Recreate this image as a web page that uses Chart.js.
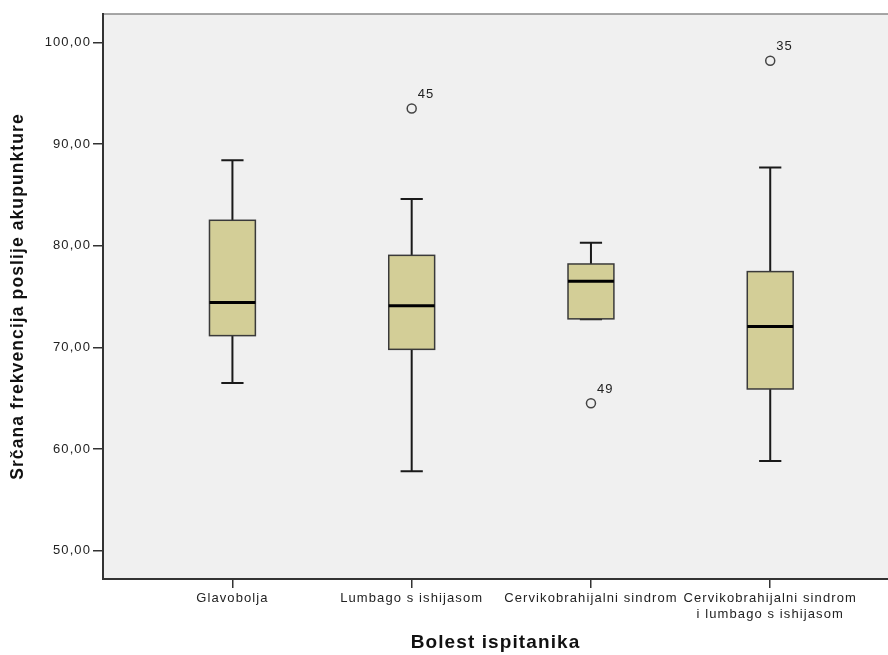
<!DOCTYPE html>
<html>
<head>
<meta charset="utf-8">
<script src="https://cdn.jsdelivr.net/npm/chart.js@4"></script>
<style>
  body { margin: 0; background: #fff; overflow: hidden; }
  #wrap { width: 888px; height: 655px; }
  canvas { display: block; }
</style>
</head>
<body>
<div id="wrap"><canvas id="boxChart" width="888" height="655"></canvas></div>
<script>
// kategorije i vrijednosti (očitano s grafa)
const categories = [
  'Glavobolja',
  'Lumbago s ishijasom',
  'Cervikobrahijalni sindrom',
  ['Cervikobrahijalni sindrom', 'i lumbago s ishijasom']
];
const whiskerLow = [66.5, 57.8, 72.75, 58.8];
const q1 = [71.15, 69.8, 72.8, 65.9];
const medians = [74.4, 74.1, 76.5, 72.05];
const q3 = [82.5, 79.05, 78.2, 77.45];
const whiskerHigh = [88.4, 84.6, 80.3, 87.7];

const outlierGroups = [2, 3, 4];
const outlierValues = [93.5, 64.5, 98.2];
const outlierIds = ['45', '49', '35'];

const yTicks = [50, 60, 70, 80, 90, 100];

const FONT = 'Liberation Sans, Arial, sans-serif';
const BOX_HALF = 0.128;
const CAP_HALF = 0.062;

// pozadina i okvir
const plotBg = {
  id: 'plotBg',
  beforeDraw(chart) {
    const { ctx, chartArea: a } = chart;
    ctx.letterSpacing = '1.1px';
    ctx.save();
    ctx.fillStyle = '#f0f0f0';
    ctx.fillRect(a.left, a.top, a.right - a.left, a.bottom - a.top);
    ctx.strokeStyle = '#8a8a8a';
    ctx.lineWidth = 1.5;
    ctx.beginPath();
    ctx.moveTo(a.left, a.top);
    ctx.lineTo(a.right, a.top);
    ctx.stroke();
    ctx.restore();
  }
};

// kutije, brkovi i medijani
const boxes = {
  id: 'boxes',
  beforeDatasetsDraw(chart) {
    const { ctx, scales: { x, y } } = chart;
    ctx.save();
    categories.forEach((c, i) => {
      const v = i + 1;
      const cx = x.getPixelForValue(v);
      const l = x.getPixelForValue(v - BOX_HALF);
      const r = x.getPixelForValue(v + BOX_HALF);
      const cl = x.getPixelForValue(v - CAP_HALF);
      const cr = x.getPixelForValue(v + CAP_HALF);
      const yLo = y.getPixelForValue(whiskerLow[i]);
      const yQ1 = y.getPixelForValue(q1[i]);
      const yMed = y.getPixelForValue(medians[i]);
      const yQ3 = y.getPixelForValue(q3[i]);
      const yHi = y.getPixelForValue(whiskerHigh[i]);

      ctx.strokeStyle = '#1a1a1a';
      ctx.lineWidth = 2;
      ctx.beginPath();
      ctx.moveTo(cx, yHi); ctx.lineTo(cx, yQ3);
      ctx.moveTo(cx, yQ1); ctx.lineTo(cx, yLo);
      ctx.moveTo(cl, yHi); ctx.lineTo(cr, yHi);
      ctx.moveTo(cl, yLo); ctx.lineTo(cr, yLo);
      ctx.stroke();

      ctx.fillStyle = '#d3ce97';
      ctx.fillRect(l, yQ3, r - l, yQ1 - yQ3);
      ctx.strokeStyle = '#3a3a3a';
      ctx.lineWidth = 1.5;
      ctx.strokeRect(l, yQ3, r - l, yQ1 - yQ3);

      ctx.strokeStyle = '#000';
      ctx.lineWidth = 3;
      ctx.beginPath();
      ctx.moveTo(l, yMed); ctx.lineTo(r, yMed);
      ctx.stroke();
    });
    ctx.restore();
  },
  afterDatasetsDraw(chart) {
    const { ctx, scales: { x, y } } = chart;
    ctx.save();
    ctx.font = '13px ' + FONT;
    ctx.fillStyle = '#222';
    ctx.textAlign = 'left';
    ctx.textBaseline = 'middle';
    outlierValues.forEach((val, i) => {
      const px = x.getPixelForValue(outlierGroups[i]);
      const py = y.getPixelForValue(val);
      ctx.fillText(outlierIds[i], px + 6, py - 14);
    });
    ctx.restore();
  }
};

new Chart(document.getElementById('boxChart'), {
  type: 'scatter',
  data: {
    datasets: [{
      data: outlierValues.map((v, i) => ({ x: outlierGroups[i], y: v })),
      pointStyle: 'circle',
      pointRadius: 4.5,
      pointBorderWidth: 1.5,
      borderColor: '#444',
      backgroundColor: 'rgba(0,0,0,0)'
    }]
  },
  options: {
    responsive: false,
    animation: false,
    devicePixelRatio: 1,
    layout: { autoPadding: false, padding: { top: 14, right: 0, left: 0, bottom: 0 } },
    plugins: {
      legend: { display: false },
      tooltip: { enabled: false }
    },
    scales: {
      x: {
        type: 'linear',
        min: 0.278,
        max: 4.657,
        afterBuildTicks: s => { s.ticks = categories.map((c, i) => ({ value: i + 1 })); },
        afterFit: s => { s.height = 76; },
        ticks: {
          autoSkip: false,
          maxRotation: 0,
          padding: 3,
          color: '#222',
          font: { family: FONT, size: 13 },
          callback: v => categories[v - 1]
        },
        grid: {
          drawOnChartArea: false,
          drawTicks: true,
          tickLength: 9,
          tickColor: '#333',
          lineWidth: 1.5
        },
        border: { display: true, color: '#333', width: 2 },
        title: {
          display: true,
          text: 'Bolest ispitanika',
          color: '#111',
          font: { family: FONT, size: 19, weight: 'bold' },
          padding: { top: 0, bottom: 1 }
        }
      },
      y: {
        min: 47.2,
        max: 102.8,
        afterBuildTicks: s => { s.ticks = yTicks.map(v => ({ value: v })); },
        afterFit: s => { s.width = 103; },
        ticks: {
          padding: 2,
          color: '#222',
          font: { family: FONT, size: 13 },
          callback: v => v.toFixed(2).replace('.', ',')
        },
        grid: {
          drawOnChartArea: false,
          drawTicks: true,
          tickLength: 10,
          tickColor: '#333',
          lineWidth: 1.5
        },
        border: { display: true, color: '#333', width: 2 },
        title: {
          display: true,
          text: 'Srčana frekvencija poslije akupunkture',
          color: '#111',
          font: { family: FONT, size: 17.5, weight: 'bold' },
          padding: { top: 8, bottom: 0 }
        }
      }
    }
  },
  plugins: [plotBg, boxes]
});
</script>
</body>
</html>
